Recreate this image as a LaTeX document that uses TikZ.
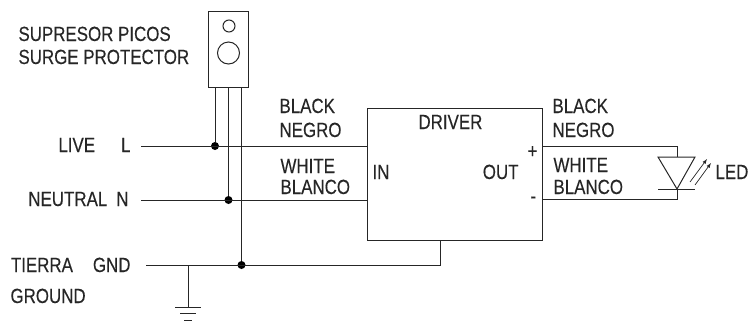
\documentclass[tikz,border=0pt]{standalone}
\usepackage{fontspec}
\setmainfont[FakeStretch=0.825,FakeBold=0.25]{Liberation Sans}
\usetikzlibrary{calc,positioning}

\begin{document}
\begin{tikzpicture}[x=1pt,y=-1pt,line width=1pt,color=black!85]

   \tikzstyle{txt}=[inner sep=0pt,anchor=base west,font=\fontsize{20.5}{22}\selectfont]
   \tikzstyle{txtr}=[inner sep=0pt,anchor=base east,font=\fontsize{20.5}{22}\selectfont]
   \tikzstyle{dot}=[circle,fill=black,draw=none,inner sep=0pt,minimum size=8pt]
   \tikzstyle{box}=[draw,inner sep=0pt]

   \useasboundingbox (0,0) rectangle (749,322);

   % boxes
   \node[box,minimum width=40pt,minimum height=76pt] at (228,49) (surge){};
   \node[box,minimum width=175pt,minimum height=132pt] at (454.5,174) (driver){};
   \node[box,circle,minimum size=12pt] at (229,26) (holesmall){};
   \node[box,circle,minimum size=22pt] at (228.5,53) (holebig){};

   % wire ends
   \coordinate (live) at (141,146);
   \coordinate (neutral) at (141,200);
   \coordinate (gnd) at (146,265);
   \coordinate (liveIn) at (driver.west |- live);
   \coordinate (neutralIn) at (driver.west |- neutral);
   \coordinate (gndOut) at (440,265);
   \coordinate (gndDriver) at (driver.south -| gndOut);
   \coordinate (earth) at (188,265);
   \coordinate (earthEnd) at (188,307);
   \coordinate (leg1) at ([xshift=-13pt]surge.south);
   \coordinate (leg2) at ([xshift=0.5pt]surge.south);
   \coordinate (leg3) at ([xshift=13.5pt]surge.south);

   \node[dot] (dotL) at (leg1 |- live) {};
   \node[dot] (dotN) at (leg2 |- neutral) {};
   \node[dot] (dotG) at (leg3 |- gnd) {};

   \draw (live) -- (liveIn);
   \draw (neutral) -- (neutralIn);
   \draw (gnd) -- (gndOut) -- (gndDriver);
   \draw (leg1) -- (dotL);
   \draw (leg2) -- (dotN);
   \draw (leg3) -- (dotG);

   % ground symbol
   \draw (earth) -- (earthEnd);
   \draw ([xshift=-13pt]earthEnd) -- ([xshift=13pt]earthEnd);
   \draw ([xshift=-8pt,yshift=-6pt]earthEnd) -- ([xshift=8pt,yshift=-6pt]earthEnd);
   \draw ([xshift=-4pt,yshift=-13pt]earthEnd) -- ([xshift=4pt,yshift=-13pt]earthEnd);

   % led
   \coordinate (ledA) at (677,157);
   \coordinate (ledK) at (677,189);
   \coordinate (plusOut) at (driver.east |- live);
   \coordinate (minusOut) at (542,199);
   \draw (plusOut) -- (live -| ledA) -- (ledA);
   \draw (minusOut) -- (minusOut -| ledK) -- (ledK);
   \draw (658,157) -- (695,157) -- (ledK) -- cycle;
   \draw (658,189) -- (695,189);
   \foreach \xa/\ya/\xb/\yb in {690/182/707/159,695/185/711/163}{
     \draw[line width=0.7pt,-latex] (\xa,\ya) -- (\xb,\yb);
   }

   % labels
   \node[txt] (supresor) at (18,41) {SUPRESOR PICOS};
   \node[txt] (protector) at (18,64) {SURGE PROTECTOR};
   \node[txtr] (liveL) at (131,152) {LIVE\hspace{26pt}L};
   \node[txtr] (neutralN) at (129,206) {NEUTRAL\hspace{9pt}N};
   \node[txtr] (tierra) at (131,272) {TIERRA\hspace{20pt}GND};
   \node[txt] (ground) at (10,303) {GROUND};
   \node[txt] (black1) at (279,113) {BLACK};
   \node[txt] (negro1) at (279,137) {NEGRO};
   \node[txt] (white1) at (280,173) {WHITE};
   \node[txt] (blanco1) at (280,194) {BLANCO};
   \node[txt] (drv) at (418,129) {DRIVER};
   \node[txt] (in) at (372,179) {IN};
   \node[txtr] (out) at (519,179) {OUT};
   \node[txt] (plus) at (527,158) {+};
   \node[txt] (minus) at (530,203) {-};
   \node[txt] (black2) at (552,113) {BLACK};
   \node[txt] (negro2) at (552,137) {NEGRO};
   \node[txt] (white2) at (553,172) {WHITE};
   \node[txt] (blanco2) at (553,194) {BLANCO};
   \node[txt] (led) at (715,179) {LED};

\end{tikzpicture}
\end{document}
